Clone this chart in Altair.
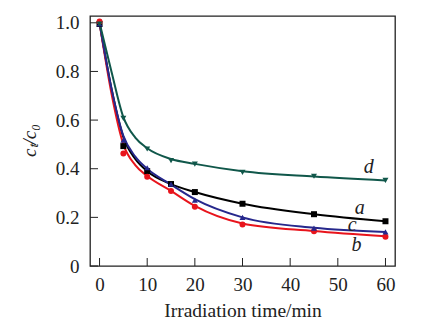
import altair as alt
import pandas as pd

# measured points
t_pts = [0, 5, 10, 15, 20, 30, 45, 60]
a_pts = [0.995, 0.493, 0.390, 0.337, 0.304, 0.256, 0.213, 0.184]
b_pts = [1.005, 0.463, 0.367, 0.308, 0.244, 0.171, 0.143, 0.120]
c_pts = [0.995, 0.518, 0.404, 0.337, 0.271, 0.200, 0.156, 0.140]
d_pts = [0.995, 0.607, 0.481, 0.433, 0.419, 0.385, 0.369, 0.352]

# fitted curves
t_fit = [0, 2.5, 5, 7.5, 10, 15, 20, 30, 45, 60]
a_fit = [1.0, 0.73, 0.53, 0.44, 0.39, 0.337, 0.304, 0.256, 0.213, 0.184]
b_fit = [1.0, 0.71, 0.50, 0.415, 0.37, 0.309, 0.247, 0.175, 0.144, 0.122]
c_fit = [1.0, 0.73, 0.535, 0.45, 0.40, 0.335, 0.275, 0.200, 0.157, 0.140]
d_fit = [1.0, 0.80, 0.612, 0.528, 0.484, 0.44, 0.42, 0.39, 0.368, 0.352]

series = ["a", "b", "c", "d"]
colors = ["#000000", "#e8141c", "#26288c", "#10574a"]
shapes = ["square", "circle", "triangle-up", "triangle-down"]

label_x = [54.6, 53.9, 53.0, 56.5]
label_y = [0.237, 0.086, 0.169, 0.406]

x_ticks = [0, 10, 20, 30, 40, 50, 60]
y_ticks = [0, 0.2, 0.4, 0.6, 0.8, 1.0]

pts = pd.DataFrame(
    [{"t": t, "v": v, "s": s} for s, vals in zip(series, [a_pts, b_pts, c_pts, d_pts]) for t, v in zip(t_pts, vals)]
)
fit = pd.DataFrame(
    [{"t": t, "v": v, "s": s} for s, vals in zip(series, [a_fit, b_fit, c_fit, d_fit]) for t, v in zip(t_fit, vals)]
)
labs = pd.DataFrame({"s": series, "t": label_x, "v": label_y})
xt = pd.DataFrame({"t": x_ticks})
yt = pd.DataFrame({"v": y_ticks})

FONT = "Liberation Serif"
W, H = 305, 250

xscale = alt.Scale(domain=[-2, 62], nice=False, zero=False)
yscale = alt.Scale(domain=[0, 1.028], nice=False, zero=False)
cscale = alt.Scale(domain=series, range=colors)
sscale = alt.Scale(domain=series, range=shapes)

xaxis = alt.Axis(values=x_ticks, ticks=False, domain=False, grid=False, labelFont=FONT,
                 labelFontSize=19, labelColor="#222", labelPadding=9,
                 title="Irradiation time/min", titleFont=FONT, titleFontSize=19.5,
                 titleFontWeight="normal", titleColor="#222", titlePadding=7)
yaxis = alt.Axis(values=y_ticks, ticks=False, domain=False, grid=False, labelFont=FONT,
                 labelFontSize=19, labelColor="#222", labelPadding=11,
                 labelExpr="datum.value == 0 ? '0' : format(datum.value, '.1f')",
                 title="cₜ/c₀", titleFont=FONT, titleFontSize=19, titleFontStyle="italic",
                 titleFontWeight="normal", titleColor="#222", titleX=-51, titleY=124)

lines = alt.Chart(fit).mark_line(strokeWidth=2, interpolate="monotone").encode(
    x=alt.X("t:Q", scale=xscale, axis=xaxis),
    y=alt.Y("v:Q", scale=yscale, axis=yaxis),
    color=alt.Color("s:N", scale=cscale, legend=None),
    detail="s:N",
)
points = alt.Chart(pts).mark_point(filled=True, opacity=1).encode(
    x=alt.X("t:Q", scale=xscale),
    y=alt.Y("v:Q", scale=yscale),
    color=alt.Color("s:N", scale=cscale, legend=None),
    shape=alt.Shape("s:N", scale=sscale, legend=None),
    size=alt.value(36),
)
labels = alt.Chart(labs).mark_text(font=FONT, fontSize=20, fontStyle="italic", color="#222",
                                   baseline="middle", align="center").encode(
    x=alt.X("t:Q", scale=xscale),
    y=alt.Y("v:Q", scale=yscale),
    text="s:N",
)
xticks = alt.Chart(xt).mark_rule(color="#222", strokeWidth=1).encode(
    x=alt.X("t:Q", scale=xscale),
    y=alt.value(H),
    y2=alt.value(H - 8),
)
yticks = alt.Chart(yt).mark_rule(color="#222", strokeWidth=1).encode(
    y=alt.Y("v:Q", scale=yscale),
    x=alt.value(0),
    x2=alt.value(8),
)

chart = alt.layer(xticks, yticks, lines, points, labels).properties(
    width=W, height=H,
    autosize=alt.AutoSizeParams(type="none"),
    padding={"left": 90, "top": 16, "right": 50, "bottom": 60},
    background="white",
).configure_view(stroke="#222", strokeWidth=1.3)

chart.save("out.html", embed_options={"renderer": "svg", "actions": False})
